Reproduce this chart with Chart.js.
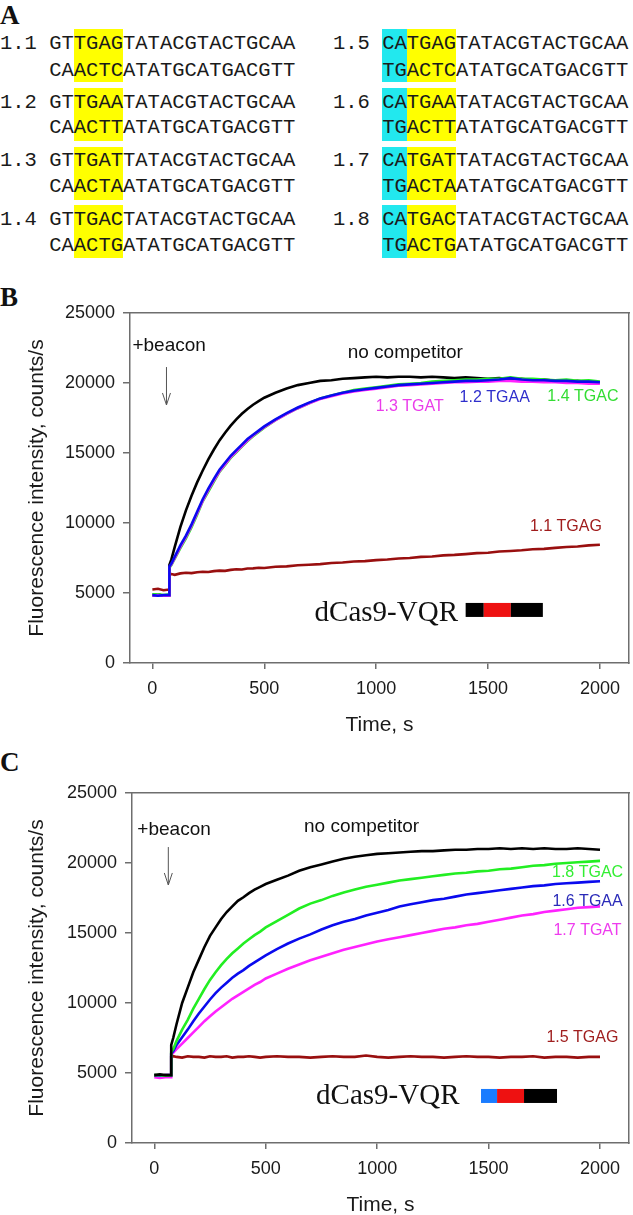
<!DOCTYPE html>
<html><head><meta charset="utf-8">
<script src="https://cdn.jsdelivr.net/npm/chart.js@4.4.1/dist/chart.umd.min.js"></script>
<style>
html,body{margin:0;padding:0;background:#fff;}
body{width:633px;height:1215px;overflow:hidden;position:relative;}
.pl{position:absolute;left:0;font-family:"Liberation Serif",serif;font-weight:bold;font-size:27px;line-height:30px;height:30px;color:#111;}
.seq{position:absolute;font-family:"Liberation Mono",monospace;font-size:20.5px;line-height:26px;height:26px;white-space:pre;color:#1a1a1a;}
.hl{position:absolute;}
canvas{position:absolute;left:0;}
</style></head><body>
<div id="panelA"></div>
<canvas id="chartB" width="633" height="460" style="top:285px"></canvas>
<canvas id="chartC" width="633" height="460" style="top:765px"></canvas>
<script>
// ---------- Panel A data ----------
const seqLabels = ['1.1','1.2','1.3','1.4','1.5','1.6','1.7','1.8'];
const seqTop = ['GTTGAGTATACGTACTGCAA','GTTGAATATACGTACTGCAA','GTTGATTATACGTACTGCAA','GTTGACTATACGTACTGCAA',
                'CATGAGTATACGTACTGCAA','CATGAATATACGTACTGCAA','CATGATTATACGTACTGCAA','CATGACTATACGTACTGCAA'];
const seqBottom = ['CAACTCATATGCATGACGTT','CAACTTATATGCATGACGTT','CAACTAATATGCATGACGTT','CAACTGATATGCATGACGTT',
                   'TGACTCATATGCATGACGTT','TGACTTATATGCATGACGTT','TGACTAATATGCATGACGTT','TGACTGATATGCATGACGTT'];

// ---------- Panel B / C data ----------
const times = [0, 25, 50, 75, 76, 85, 100, 125, 150, 175, 200, 225, 250, 275, 300, 325, 350, 375, 400, 425, 450, 475, 500,
  550, 600, 650, 700, 750, 800, 850, 900, 950, 1000, 1050, 1100, 1150, 1200, 1250, 1300, 1350, 1400, 1450, 1500,
  1550, 1600, 1650, 1700, 1750, 1800, 1850, 1900, 1950, 2000];
const xTicks = [0, 500, 1000, 1500, 2000];
const yTicks = [0, 5000, 10000, 15000, 20000, 25000];

const bNoCompetitor = [4850, 4900, 4800, 4850, 7000, 7400, 8300, 9700, 10900, 11950, 12900, 13750, 14550, 15250, 15900, 16450, 16950, 17400, 17800, 18150, 18450, 18700, 18950,
  19300, 19600, 19850, 20000, 20150, 20200, 20300, 20350, 20400, 20450, 20400, 20450, 20450, 20400, 20450, 20400, 20350, 20400, 20350, 20300,
  20350, 20250, 20300, 20200, 20250, 20150, 20100, 20150, 20050, 20050];
const b12TGAA = [4850, 4800, 4850, 4850, 6900, 7100, 7600, 8400, 9100, 9900, 10800, 11700, 12450, 13150, 13800, 14300, 14800, 15200, 15600, 16000, 16300, 16600, 16900,
  17400, 17850, 18250, 18600, 18900, 19100, 19300, 19450, 19550, 19650, 19750, 19850, 19900, 19950, 20000, 20050, 20100, 20150, 20150, 20200,
  20250, 20350, 20250, 20200, 20200, 20150, 20150, 20100, 20100, 20050];
const b14TGAC = [4900, 4900, 4850, 4900, 6800, 7000, 7450, 8200, 8900, 9700, 10600, 11550, 12250, 12950, 13650, 14150, 14650, 15050, 15450, 15850, 16200, 16500, 16800,
  17350, 17800, 18200, 18550, 18900, 19100, 19300, 19500, 19600, 19700, 19800, 19900, 19950, 20000, 20100, 20150, 20200, 20250, 20250, 20300,
  20300, 20400, 20300, 20300, 20250, 20200, 20250, 20150, 20200, 20100];
const b13TGAT = [4800, 4850, 4800, 4800, 6850, 7050, 7500, 8300, 9000, 9800, 10700, 11600, 12350, 13050, 13700, 14200, 14700, 15100, 15500, 15900, 16250, 16550, 16850,
  17350, 17800, 18200, 18550, 18850, 19050, 19250, 19400, 19500, 19600, 19700, 19800, 19850, 19900, 19950, 20000, 20050, 20050, 20100, 20100,
  20150, 20150, 20100, 20100, 20050, 20050, 20000, 20000, 19950, 19950];
const b11TGAG = [5250, 5300, 5200, 5250, 6300, 6350, 6300, 6400, 6450, 6420, 6480, 6520, 6500, 6560, 6600, 6580, 6650, 6700, 6680, 6750, 6760, 6800, 6790,
  6870, 6900, 6980, 7020, 7060, 7140, 7180, 7250, 7280, 7350, 7390, 7460, 7500, 7580, 7610, 7690, 7720, 7780, 7850, 7880,
  7960, 8000, 8050, 8120, 8150, 8220, 8290, 8320, 8400, 8450];

const cNoCompetitor = [4850, 4900, 4850, 4850, 7000, 7500, 8500, 10000, 11100, 12200, 13100, 14000, 14800, 15400, 16000, 16500, 16900, 17300, 17550, 17850, 18100, 18300, 18500,
  18800, 19100, 19450, 19700, 19900, 20100, 20300, 20450, 20550, 20650, 20700, 20750, 20800, 20850, 20850, 20900, 20950, 20950, 21000, 21000,
  21050, 21000, 21050, 21000, 21050, 21000, 21000, 21050, 21000, 20950];
const c18TGAC = [4850, 4850, 4800, 4850, 6500, 6700, 7300, 8100, 8800, 9600, 10300, 11000, 11650, 12200, 12700, 13150, 13550, 13900, 14250, 14550, 14850, 15100, 15400,
  15850, 16300, 16750, 17100, 17350, 17650, 17900, 18100, 18300, 18450, 18600, 18750, 18850, 18950, 19050, 19150, 19250, 19300, 19400, 19450,
  19550, 19600, 19700, 19800, 19850, 19950, 20000, 20050, 20100, 20150];
const c16TGAA = [4850, 4800, 4850, 4850, 6400, 6550, 7000, 7550, 8100, 8700, 9250, 9750, 10250, 10700, 11100, 11450, 11800, 12100, 12350, 12650, 12900, 13150, 13400,
  13850, 14250, 14600, 14900, 15250, 15550, 15800, 16000, 16250, 16450, 16650, 16900, 17050, 17200, 17350, 17450, 17600, 17750, 17850, 17950,
  18050, 18150, 18250, 18350, 18400, 18500, 18550, 18600, 18650, 18700];
const c17TGAT = [4700, 4650, 4700, 4700, 6350, 6450, 6700, 7100, 7500, 7900, 8300, 8700, 9050, 9400, 9700, 10000, 10300, 10550, 10800, 11050, 11300, 11500, 11750,
  12100, 12450, 12750, 13050, 13300, 13550, 13800, 14000, 14200, 14400, 14550, 14700, 14850, 15000, 15150, 15300, 15400, 15550, 15650, 15800,
  15950, 16100, 16250, 16350, 16500, 16600, 16700, 16800, 16850, 16900];
const c15TGAG = [4850, 4800, 4850, 4850, 6150, 6200, 6150, 6100, 6200, 6150, 6150, 6100, 6200, 6150, 6150, 6200, 6100, 6150, 6150, 6200, 6150, 6100, 6150,
  6200, 6150, 6150, 6100, 6150, 6200, 6150, 6150, 6250, 6150, 6100, 6150, 6200, 6150, 6150, 6100, 6150, 6200, 6150, 6150,
  6100, 6150, 6150, 6200, 6100, 6150, 6150, 6100, 6150, 6150];

// ---------- Panel A layout ----------
(function(){
  const A = document.getElementById('panelA');
  const fs = 20.5, cw = fs * 0.6;
  const colX = [0, 333];
  const rowTopY = [44, 103, 161, 220];
  const rowBotY = [71, 128, 187, 246];
  const boxTop = [29, 88, 147, 205];
  const boxH = 53;
  function add(html){ A.insertAdjacentHTML('beforeend', html); }
  add('<div class="pl" style="top:0px">A</div>');
  add('<div class="pl" style="top:282px">B</div>');
  add('<div class="pl" style="top:747px">C</div>');
  for (let i = 0; i < 8; i++) {
    const col = i < 4 ? 0 : 1, g = i % 4, x0 = colX[col];
    const sx = x0 + 4 * cw;
    if (col === 1) {
      add(`<div class="hl" style="left:${sx}px;top:${boxTop[g]}px;width:${2*cw}px;height:${boxH}px;background:#22e8ee"></div>`);
    }
    add(`<div class="hl" style="left:${sx + 2*cw}px;top:${boxTop[g]}px;width:${4*cw}px;height:${boxH}px;background:#ffff00"></div>`);
    add(`<div class="seq" style="left:${x0}px;top:${rowTopY[g]-13}px">${seqLabels[i]} ${seqTop[i]}</div>`);
    add(`<div class="seq" style="left:${x0}px;top:${rowBotY[g]-13}px">    ${seqBottom[i]}</div>`);
  }
})();

// ---------- Charts ----------
Chart.defaults.font.family = '"Liberation Sans", Arial, sans-serif';
const AX = '#6e6e6e';

function pts(arr){ return times.map((t, i) => ({x: t, y: arr[i]})); }

function annotPlugin(cfg){
  return {
    id: 'annot',
    afterDatasetsDraw(chart){
      const xs = chart.scales.x, ys = chart.scales.y, ctx = chart.ctx;
      ctx.save();
      cfg.texts.forEach(o => {
        ctx.font = `${o.size}px "Liberation Sans", Arial, sans-serif`;
        ctx.fillStyle = o.color; ctx.textAlign = o.align || 'center'; ctx.textBaseline = 'middle';
        ctx.fillText(o.text, xs.getPixelForValue(o.t), ys.getPixelForValue(o.v));
      });
      const ax = xs.getPixelForValue(cfg.arrow.t), ay1 = ys.getPixelForValue(cfg.arrow.v1), ay2 = ys.getPixelForValue(cfg.arrow.v2);
      ctx.strokeStyle = '#555'; ctx.lineWidth = 1;
      ctx.beginPath(); ctx.moveTo(ax, ay1); ctx.lineTo(ax, ay2);
      ctx.moveTo(ax - 4, ay2 - 12); ctx.lineTo(ax, ay2); ctx.lineTo(ax + 4, ay2 - 12); ctx.stroke();
      const c = cfg.construct;
      ctx.font = '29px "Liberation Serif", serif'; ctx.fillStyle = '#111'; ctx.textAlign = 'left'; ctx.textBaseline = 'middle';
      ctx.fillText(c.text, xs.getPixelForValue(c.t), ys.getPixelForValue(c.v));
      const yT = ys.getPixelForValue(c.vTop), yB = ys.getPixelForValue(c.vBot);
      c.segs.forEach(s => {
        const x0 = xs.getPixelForValue(s.t0), x1 = xs.getPixelForValue(s.t1);
        ctx.fillStyle = s.c; ctx.fillRect(x0, yT, x1 - x0, yB - yT);
      });
      ctx.restore();
    }
  };
}

function makeChart(id, datasets, cfg){
  const tickFont = {size: 18};
  const titleFont = {size: 21};
  new Chart(document.getElementById(id), {
    type: 'line',
    data: { datasets: datasets.map(d => ({
      data: pts(d.values), borderColor: d.color, borderWidth: 2.6, pointRadius: 0, tension: 0, fill: false
    })) },
    options: {
      responsive: false, animation: false, events: [],
      layout: { padding: { top: 28, right: 4, left: 0, bottom: 0 } },
      plugins: { legend: { display: false }, tooltip: { enabled: false } },
      scales: {
        x: {
          type: 'linear', position: 'bottom', min: -100, max: 2130,
          afterBuildTicks: s => { s.ticks = xTicks.map(v => ({value: v})); },
          afterFit: s => { s.height = 82; },
          ticks: { font: tickFont, color: '#1a1a1a', padding: 9, maxRotation: 0, callback: v => String(v) },
          grid: { drawOnChartArea: false, drawTicks: true, tickLength: 6, color: AX, lineWidth: 1.5 },
          border: { display: true, color: AX, width: 1.5 },
          title: { display: true, text: 'Time, s', font: titleFont, color: '#1a1a1a', padding: { top: 0, bottom: 7 } }
        },
        y: {
          type: 'linear', position: 'left', min: 0, max: 25000,
          afterBuildTicks: s => { s.ticks = yTicks.map(v => ({value: v})); },
          afterFit: s => { s.width = cfg.yWidth; },
          ticks: { font: tickFont, color: '#1a1a1a', padding: 8, callback: v => String(v) },
          grid: { drawOnChartArea: false, drawTicks: true, tickLength: 7, color: AX, lineWidth: 1.5 },
          border: { display: true, color: AX, width: 1.5 },
          title: { display: true, text: 'Fluorescence intensity, counts/s', font: titleFont, color: '#1a1a1a', padding: { top: 25, bottom: 0 } }
        },
        xTop: {
          type: 'linear', position: 'top', min: 0, max: 1,
          afterFit: s => { s.height = 0; },
          ticks: { display: false },
          grid: { drawOnChartArea: false, drawTicks: false },
          border: { display: true, color: AX, width: 1.5 }
        },
        yRight: {
          type: 'linear', position: 'right', min: 0, max: 1,
          afterFit: s => { s.width = 0; },
          ticks: { display: false },
          grid: { drawOnChartArea: false, drawTicks: false },
          border: { display: true, color: AX, width: 1.5 }
        }
      }
    },
    plugins: [annotPlugin(cfg)]
  });
}

makeChart('chartB', [
  { values: b12TGAA, color: '#0a0aee' },
  { values: b13TGAT, color: '#ff22ff' },
  { values: b14TGAC, color: '#22ee22' },
  { values: bNoCompetitor, color: '#000000' },
  { values: b11TGAG, color: '#990f0f' }
], {
  yWidth: 130,
  texts: [
    { text: '+beacon', t: -89, v: 22640, color: '#111', size: 19, align: 'left' },
    { text: 'no competitor', t: 1130, v: 22150, color: '#111', size: 19 },
    { text: '1.3 TGAT', t: 1150, v: 18300, color: '#ea3cea', size: 16 },
    { text: '1.2 TGAA', t: 1530, v: 18930, color: '#2f2fcc', size: 16 },
    { text: '1.4 TGAC', t: 1924, v: 19000, color: '#33dd33', size: 16 },
    { text: '1.1 TGAG', t: 1848, v: 9710, color: '#a01c1c', size: 16 }
  ],
  arrow: { t: 63, v1: 21140, v2: 18430 },
  construct: { text: 'dCas9-VQR', t: 725, v: 3570, vTop: 4290, vBot: 3290,
    segs: [ { t0: 1400, t1: 1481, c: '#000' }, { t0: 1481, t1: 1602, c: '#ee1111' }, { t0: 1602, t1: 1745, c: '#000' } ] }
});

makeChart('chartC', [
  { values: cNoCompetitor, color: '#000000' },
  { values: c18TGAC, color: '#22ee22' },
  { values: c16TGAA, color: '#0a0aee' },
  { values: c17TGAT, color: '#ff22ff' },
  { values: c15TGAG, color: '#990f0f' }
], {
  yWidth: 132,
  texts: [
    { text: '+beacon', t: -76, v: 22360, color: '#111', size: 19, align: 'left' },
    { text: 'no competitor', t: 930, v: 22570, color: '#111', size: 19 },
    { text: '1.8 TGAC', t: 1944, v: 19290, color: '#33ee33', size: 16 },
    { text: '1.6 TGAA', t: 1944, v: 17210, color: '#2a2ab8', size: 16 },
    { text: '1.7 TGAT', t: 1944, v: 15140, color: '#ee3cee', size: 16 },
    { text: '1.5 TGAG', t: 1921, v: 7500, color: '#a02020', size: 16 }
  ],
  arrow: { t: 63, v1: 21140, v2: 18430 },
  construct: { text: 'dCas9-VQR', t: 726, v: 3360, vTop: 3860, vBot: 2860,
    segs: [ { t0: 1466, t1: 1538, c: '#1a7cff' }, { t0: 1538, t1: 1659, c: '#ee1111' }, { t0: 1659, t1: 1807, c: '#000' } ] }
});
</script>
</body></html>
